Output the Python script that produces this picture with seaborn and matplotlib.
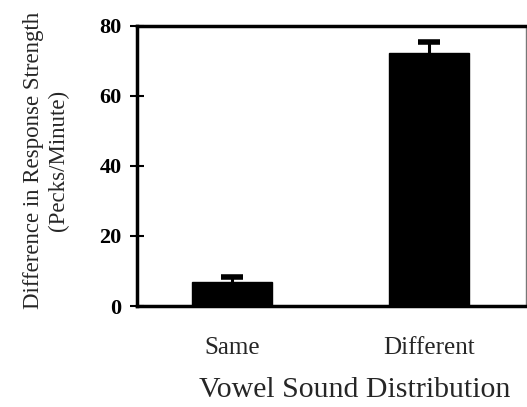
import matplotlib
matplotlib.use("Agg")
import matplotlib.pyplot as plt
import seaborn as sns
import pandas as pd

conditions = ["Same", "Different"]
means = [6.8, 72.1]
errors = [1.5, 3.2]
yticks = [0, 20, 40, 60, 80]

sns.set_theme(style="white")
plt.rcParams["font.family"] = ["Liberation Serif", "DejaVu Serif"]

df = pd.DataFrame({"cond": conditions, "val": means})

fig = plt.figure(figsize=(5.27, 4.07), dpi=100)
ax = fig.add_axes([0.26, 0.248, 0.738, 0.689])

sns.barplot(data=df, x="cond", y="val", order=conditions, color="black",
            width=0.405, saturation=1, errorbar=None, ax=ax, edgecolor="black")
eb = ax.errorbar(conditions, means, yerr=[[0, 0], errors], fmt="none",
                 ecolor="black", elinewidth=2.2, capsize=8, capthick=4, zorder=5)
# keep only the upper caps
eb[1][0].remove()
for cl in eb[1][1:]:
    cl.set_solid_capstyle("round")

ax.set_xlim(-0.48, 1.49)
ax.set_ylim(0, 80)
ax.set_yticks(yticks)
ax.set_yticklabels([str(t) for t in yticks], fontsize=16, fontweight="bold")
ax.tick_params(axis="y", direction="inout", length=10, width=1.5, pad=6,
               left=True, colors="black")
ax.tick_params(axis="x", length=0, pad=22, labelsize=18)

for s in ["left", "bottom", "top"]:
    ax.spines[s].set_linewidth(2.5)
    ax.spines[s].set_color("black")
ax.spines["right"].set_linewidth(1.0)
ax.spines["right"].set_color("#777777")

ax.set_xlabel("Vowel Sound Distribution", fontsize=21.5)
ax.xaxis.set_label_coords(0.56, -0.252)
ax.set_ylabel("Difference in Response Strength\n(Pecks/Minute)", fontsize=16.5,
              linespacing=1.25)
ax.yaxis.set_label_coords(-0.175, 0.52)

fig.savefig("out.png", dpi=100)
